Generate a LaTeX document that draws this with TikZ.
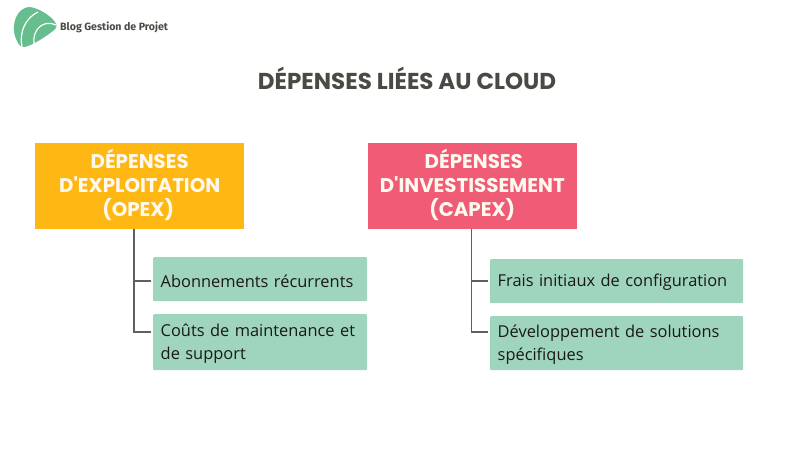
\documentclass[tikz,border=0pt]{standalone}
\usepackage{fontspec}
\setmainfont{Open Sans}
\newfontfamily\headfont{Poppins}
\newfontfamily\logofont{Fira Sans}
\definecolor{opexcol}{HTML}{FFB713}
\definecolor{capexcol}{HTML}{F05C75}
\definecolor{subcol}{HTML}{A0D5BD}
\definecolor{titlecol}{HTML}{4A4A45}
\definecolor{linecol}{HTML}{5F5F5F}
\definecolor{logocol}{HTML}{66BE8E}
\definecolor{headtext}{HTML}{FFF9F0}
\newcommand{\lowerline}[1]{\rule{0pt}{#1}}
\newcommand{\raiseblock}{\rule[-7pt]{0pt}{7pt}}
\tikzset{
  headbox/.style={anchor=north west,inner sep=0pt,minimum width=209.5pt,minimum height=86pt,text width=209.5pt,align=center,text=headtext,font=\headfont\bfseries\fontsize{19.8}{24.3}\selectfont},
  subbox/.style={anchor=north west,fill=subcol,rounded corners=1pt,inner xsep=7.5pt,inner ysep=0pt,align=left,text=black!90,font=\fontsize{16.4}{23}\selectfont},
  link/.style={draw=linecol,line width=1.2pt,shorten >=2pt},
}
\begin{document}
\begin{tikzpicture}[x=1pt,y=-1pt]
\useasboundingbox (0,0) rectangle (811,456);
\fill[white] (0,0) rectangle (811,456);
% logo
\fill[logocol] (14,30) .. controls (13,18) and (20,7) .. (30,7) .. controls (38,8) and (50,15) .. (55,22) .. controls (58,26) and (56,29) .. (53,31) .. controls (45,37) and (36,43) .. (28,46) .. controls (24,48) and (20,47) .. (18,43) .. controls (16,39) and (14,35) .. (14,30) -- cycle;
\draw[white,line width=1.2pt] (22,47) .. controls (19,33) and (25,18) .. (38,12);
\draw[white,line width=1.2pt] (34,44) .. controls (32,30) and (43,19) .. (56,25);
\node[anchor=west,inner sep=0pt,text=titlecol,font=\logofont\bfseries\fontsize{10.6}{13}\selectfont] (logotext) at (60,27) {Blog Gestion de Projet};
% title
\node[inner sep=0pt,text=titlecol,font=\headfont\bfseries\fontsize{23}{27}\selectfont] (title) at (407,78.5) {DÉPENSES LIÉES AU CLOUD};
% head boxes
\node[headbox,fill=opexcol,minimum width=209pt,text width=206pt] (opex) at (35,143) {DÉPENSES\hspace*{2pt}\\D'EXPLOITATION\hspace*{3pt}\\(OPEX)\hspace*{3pt}\raiseblock};
\node[headbox,fill=capexcol] (capex) at (367.3,143) {\hspace*{3pt}DÉPENSES\\D'INVESTISSEMENT\\(CAPEX)\raiseblock};
% sub boxes
\node[subbox,minimum width=214pt,text width=199pt,minimum height=44pt] (a1) at (153,257) {\lowerline{16.5pt}Abonnements récurrents};
\node[subbox,minimum width=214pt,text width=199pt,minimum height=56pt] (a2) at (153,314) {\lowerline{15.5pt}Coûts de maintenance et\\de support};
\node[subbox,minimum width=253pt,text width=238pt,minimum height=44pt] (b1) at (490,259) {\lowerline{14.5pt}Frais initiaux de configuration};
\node[subbox,minimum width=253pt,text width=238pt,minimum height=54pt] (b2) at (490,316) {\lowerline{16.5pt}Développement de solutions\\spécifiques};
% connectors
\coordinate (a1in) at (153,281);
\coordinate (a2in) at (153,332);
\coordinate (b1in) at (490,281);
\coordinate (b2in) at (490,332);
\coordinate (atop) at (134,229);
\coordinate (btop) at (471.7,229);
\draw[link] (atop) |- (a1in);
\draw[link] (atop) |- (a2in);
\draw[link] (btop) |- (b1in);
\draw[link] (btop) |- (b2in);
\end{tikzpicture}
\end{document}
